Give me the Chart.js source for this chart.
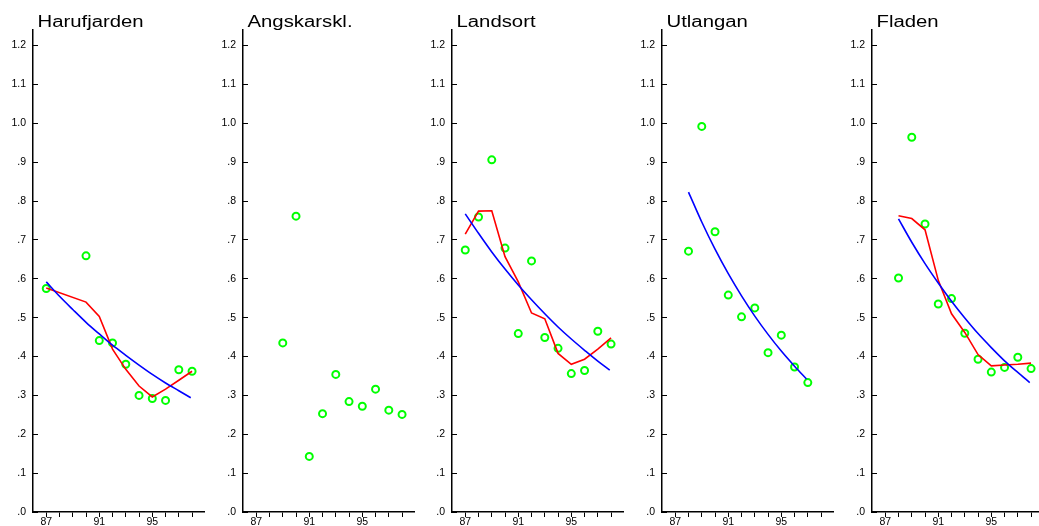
<!DOCTYPE html>
<html>
<head>
<meta charset="utf-8">
<script src="https://cdn.jsdelivr.net/npm/chart.js@4/dist/chart.umd.min.js"></script>
<style>
  html, body { margin: 0; padding: 0; background: #fff; overflow: hidden; }
  body { width: 1039px; height: 526px; position: relative; }
  .panel { position: absolute; top: 0; width: 210px; height: 526px; }
</style>
</head>
<body>
<div class="panel" style="left:0px"><canvas id="c0" width="210" height="526"></canvas></div>
<div class="panel" style="left:210px"><canvas id="c1" width="210" height="526"></canvas></div>
<div class="panel" style="left:419px"><canvas id="c2" width="210" height="526"></canvas></div>
<div class="panel" style="left:629px"><canvas id="c3" width="210" height="526"></canvas></div>
<div class="panel" style="left:839px"><canvas id="c4" width="210" height="526"></canvas></div>
<script>
const years = [87, 88, 89, 90, 91, 92, 93, 94, 95, 96, 97, 98];
const yearLabels = ['87', '', '', '', '91', '', '', '', '95', '', '', ''];
const yTicks = [0, 0.1, 0.2, 0.3, 0.4, 0.5, 0.6, 0.7, 0.8, 0.9, 1.0, 1.1, 1.2];
const yTickLabels = ['.0', '.1', '.2', '.3', '.4', '.5', '.6', '.7', '.8', '.9', '1.0', '1.1', '1.2'];

const stations = ['Harufjarden', 'Angskarskl.', 'Landsort', 'Utlangan', 'Fladen'];

// measured values per year (null = no value that year)
const harufjardenObs = [0.575, null, null, 0.659, 0.441, 0.435, 0.380, 0.300, 0.292, 0.287, 0.366, 0.362];
const angskarsklObs = [null, null, 0.435, 0.761, 0.143, 0.253, 0.354, 0.284, 0.272, 0.316, 0.262, 0.251];
const landsortObs = [0.674, 0.759, 0.906, 0.679, 0.459, 0.646, 0.449, 0.421, 0.356, 0.364, 0.465, 0.432];
const utlanganObs = [null, 0.671, 0.992, 0.721, 0.558, 0.502, 0.525, 0.410, 0.455, 0.373, 0.333, null];
const fladenObs = [null, 0.602, 0.964, 0.741, 0.535, 0.549, 0.460, 0.393, 0.360, 0.372, 0.398, 0.369];

// red smoothed line
const harufjardenSmooth = [0.576, null, null, 0.540, 0.503, 0.419, 0.367, 0.324, 0.296, 0.316, 0.339, 0.362];
const angskarsklSmooth = [];
const landsortSmooth = [0.715, 0.774, 0.775, 0.657, 0.592, 0.512, 0.497, 0.408, 0.380, 0.393, 0.419, 0.448];
const utlanganSmooth = [];
const fladenSmooth = [null, 0.762, 0.755, 0.726, 0.596, 0.510, 0.462, 0.405, 0.376, 0.378, 0.380, 0.383];

// blue trend curve
const harufjardenFitX = [87, 88, 89, 90, 91, 92, 93, 94, 95, 96, 97, 97.9];
const harufjardenFit = [0.592, 0.555, 0.521, 0.488, 0.458, 0.429, 0.403, 0.378, 0.354, 0.332, 0.312, 0.294];
const angskarsklFitX = [];
const angskarsklFit = [];
const landsortFitX = [87, 88, 89, 90, 91, 92, 93, 94, 95, 96, 97, 97.9];
const landsortFit = [0.767, 0.717, 0.669, 0.625, 0.584, 0.546, 0.510, 0.476, 0.445, 0.416, 0.388, 0.365];
const utlanganFitX = [88, 89, 90, 91, 92, 93, 94, 95, 96, 96.9];
const utlanganFit = [0.823, 0.746, 0.676, 0.613, 0.556, 0.504, 0.457, 0.414, 0.375, 0.342];
const fladenFitX = [88, 89, 90, 91, 92, 93, 94, 95, 96, 97, 97.9];
const fladenFit = [0.754, 0.694, 0.639, 0.589, 0.542, 0.499, 0.459, 0.423, 0.389, 0.359, 0.333];

const panels = [
    [harufjardenObs, harufjardenSmooth, harufjardenFitX, harufjardenFit],
    [angskarsklObs, angskarsklSmooth, angskarsklFitX, angskarsklFit],
    [landsortObs, landsortSmooth, landsortFitX, landsortFit],
    [utlanganObs, utlanganSmooth, utlanganFitX, utlanganFit],
    [fladenObs, fladenSmooth, fladenFitX, fladenFit]
];

const FONT = '"Liberation Sans", Arial, Helvetica, sans-serif';

// station name above each panel, a bit wider than plain Arial like the original
const panelTitle = {
    id: 'panelTitle',
    afterDraw(chart, args, opts) {
        const ctx = chart.ctx;
        ctx.save();
        ctx.font = '16px ' + FONT;
        ctx.fillStyle = '#000';
        ctx.textBaseline = 'alphabetic';
        ctx.translate(chart.chartArea.left + 4.5, 26.5);
        ctx.scale(1.27, 1);
        ctx.fillText(opts.text, 0, 0);
        ctx.restore();
    }
};

function toPoints(xs, ys) {
    const pts = [];
    for (let i = 0; i < ys.length; i++) {
        if (ys[i] !== null) pts.push({ x: xs[i], y: ys[i] });
    }
    return pts;
}

function makePanel(index) {
    const [obs, smooth, fitX, fit] = panels[index];
    const datasets = [];
    datasets.push({
        data: toPoints(years, obs),
        showLine: false,
        pointRadius: 3.5,
        pointBorderWidth: 2,
        pointBorderColor: '#00ff00',
        pointBackgroundColor: 'rgba(0,0,0,0)',
        order: 3
    });
    if (smooth.length) {
        datasets.push({
            data: toPoints(years, smooth),
            showLine: true,
            borderColor: '#ff0000',
            borderWidth: 1.6,
            pointRadius: 0,
            order: 2
        });
    }
    if (fit.length) {
        datasets.push({
            data: toPoints(fitX, fit),
            showLine: true,
            borderColor: '#0000ff',
            borderWidth: 1.6,
            pointRadius: 0,
            cubicInterpolationMode: 'monotone',
            order: 1
        });
    }

    new Chart(document.getElementById('c' + index), {
        type: 'scatter',
        data: { datasets: datasets },
        plugins: [panelTitle],
        options: {
            responsive: false,
            animation: false,
            events: [],
            layout: { padding: { top: 30, right: 3, left: 0, bottom: 0 } },
            plugins: {
                legend: { display: false },
                tooltip: { enabled: false },
                panelTitle: { text: stations[index] }
            },
            scales: {
                x: {
                    type: 'linear',
                    min: 86,
                    max: 98.9,
                    afterBuildTicks: axis => { axis.ticks = years.map(v => ({ value: v })); },
                    afterFit: axis => {
                        axis.height = 14;
                        axis.paddingLeft = 0;
                        axis.paddingRight = 0;
                    },
                    ticks: {
                        autoSkip: false,
                        maxRotation: 0,
                        padding: -1,
                        color: '#000',
                        font: { family: FONT, size: 10.5 },
                        callback: (v, i) => yearLabels[i]
                    },
                    grid: { drawOnChartArea: false, drawTicks: true, tickLength: 5, color: '#000', lineWidth: 1 },
                    border: { display: true, color: '#000', width: 1.5 }
                },
                y: {
                    type: 'linear',
                    min: 0,
                    max: 1.24,
                    afterBuildTicks: axis => { axis.ticks = yTicks.map(v => ({ value: v })); },
                    afterFit: axis => {
                        axis.width = 33;
                        axis.paddingTop = 0;
                        axis.paddingBottom = 0;
                    },
                    ticks: {
                        autoSkip: false,
                        padding: 12,
                        color: '#000',
                        font: { family: FONT, size: 10.5 },
                        callback: (v, i) => yTickLabels[i]
                    },
                    grid: { drawOnChartArea: false, drawTicks: true, tickLength: -5, color: '#000', lineWidth: 1 },
                    border: { display: true, color: '#000', width: 1.5 }
                }
            }
        }
    });
}

for (let i = 0; i < panels.length; i++) {
    makePanel(i);
}
</script>
</body>
</html>
